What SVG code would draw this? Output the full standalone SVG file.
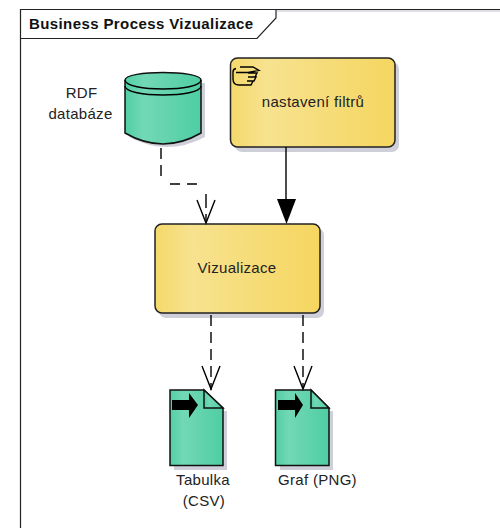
<svg xmlns="http://www.w3.org/2000/svg" width="500" height="528" viewBox="0 0 500 528">
<style>
text{font-family:"Liberation Sans",Arial,sans-serif;font-size:15px;letter-spacing:.3px;fill:#222;text-anchor:middle}
.title{font-weight:bold;text-anchor:start;fill:#111;letter-spacing:.4px}
.ln{fill:none;stroke:#000;stroke-width:1.4}
.d{stroke-dasharray:11 6}
.sh{fill:#cfcfd9}
.y{fill:url(#yg);stroke:#222;stroke-width:1.5}
.g{fill:url(#gg);stroke:#111;stroke-width:1.5}
</style>
<defs>
<linearGradient id="yg" x1="0" x2="1" y1="0" y2="0"><stop offset="0" stop-color="#f5d96b"/><stop offset=".22" stop-color="#f7e28f"/><stop offset="1" stop-color="#f5d660"/></linearGradient>
<linearGradient id="gg" x1="0" x2="1" y1="0" y2="0"><stop offset="0" stop-color="#52cfa5"/><stop offset=".25" stop-color="#72d8b5"/><stop offset="1" stop-color="#4fcea3"/></linearGradient>
</defs>
<rect width="500" height="528" fill="#fff"/>
<g id="frame">
<path d="M277 11H500" fill="none" stroke="#d4d4dc" stroke-width="1.500"/>
<path d="M20.500 528V9.500H500" fill="none" stroke="#222" stroke-width="1.200"/>
<path d="M20.500 38.500H257L276 18V9.500" fill="none" stroke="#222" stroke-width="1.200"/>
<text class="title" x="29" y="29">Business Process Vizualizace</text>
</g>
<g id="rdf">
<path class="sh" d="M129 83H205V137Q167 157 129 137Z"/>
<path class="g" d="M125 80C125 70 201 70 201 80V133Q163 155 125 133Z"/>
<path class="ln" d="M125 80C125 92 201 92 201 80M125 86C125 98 201 98 201 86"/>
<text x="81.500" y="98">RDF</text>
<text x="80.500" y="119">databáze</text>
</g>
<g id="filtr">
<rect class="sh" x="235" y="62" width="164" height="90" rx="7"/>
<rect class="y" x="230.500" y="58" width="164.500" height="89" rx="7"/>
<path class="ln" d="M240 67H253L259 70.500L248 72.500H236M248 73H257L255 77H248M248 77H256L254 81H247M247 81H253L251 85H239Q233 85 233 79V72Q233 69 236 68.500"/>
<text x="313" y="107">nastavení filtrů</text>
</g>
<g id="viz">
<rect class="sh" x="159" y="228" width="165" height="90" rx="7"/>
<rect class="y" x="155" y="224" width="165" height="89" rx="7"/>
<text x="237" y="273">Vizualizace</text>
</g>
<g id="csv">
<path class="sh" d="M222 411H227V470H174V465H222Z"/>
<path class="g" d="M170 390H204L223 408V465.500H170Z"/>
<path class="g" d="M204 390V408H223Z"/>
<path d="M172 400H189V393L198 405L189 418V410H172Z" fill="#000"/>
<text x="203" y="485">Tabulka</text>
<text x="204" y="506">(CSV)</text>
</g>
<g id="png">
<path class="sh" d="M329 411H333V470H280V465H329Z"/>
<path class="g" d="M275.500 390H311L329 408V465.500H275.500Z"/>
<path class="g" d="M311 390V408H329Z"/>
<path d="M278 400H295V393L303 405L295 418V410H278Z" fill="#000"/>
<text x="317.500" y="485">Graf (PNG)</text>
</g>
<g id="connectors">
<path class="ln" d="M161 148V159M161 165V176M170 184H180M187 184H197M206 194V208M206 214V222"/>
<path class="ln" d="M197 200L206 223L215 200"/>
<path class="ln" d="M286 147V200"/>
<path d="M277 199H296L286.500 224Z" fill="#000"/>
<path class="ln d" d="M211 315V390"/>
<path class="ln" d="M202 366L211 389L220 366"/>
<path class="ln d" d="M303 315V388"/>
<path class="ln" d="M294 366L303 389L312 366"/>
</g>
</svg>
